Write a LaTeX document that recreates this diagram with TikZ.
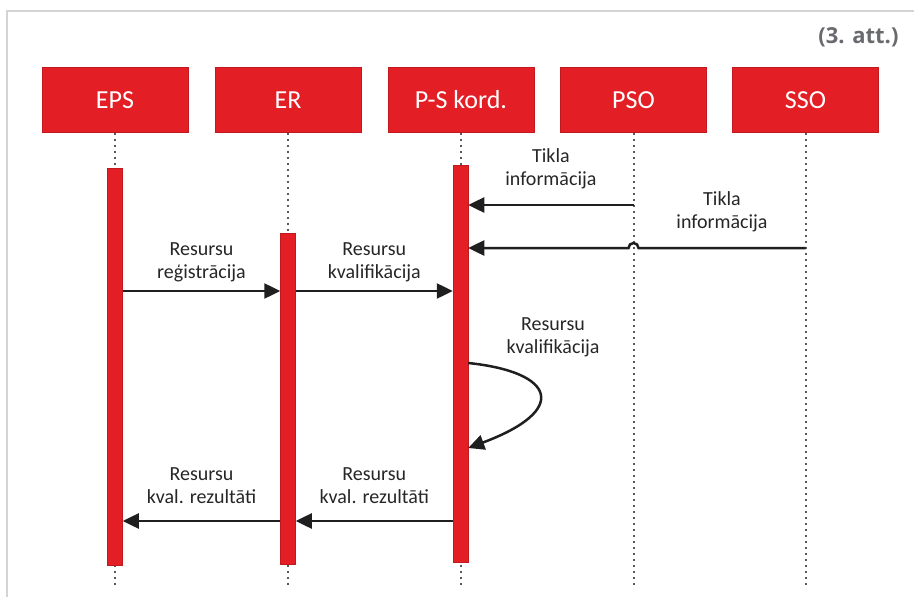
\documentclass[tikz,border=0pt]{standalone}
\usepackage{fontspec}
\setmainfont{Carlito}
\newfontfamily\attfont{Open Sans}
\usepackage{tikz}
\usetikzlibrary{arrows.meta}
\tikzset{>={Triangle[length=16pt,width=15pt]}}
\definecolor{actred}{RGB}{228,30,37}
\definecolor{framegray}{RGB}{212,212,212}
\definecolor{attgray}{RGB}{105,106,110}
\tikzset{
    actor/.style={fill=actred, draw=actred!85!black, line width=0.5pt,
        minimum width=146pt, minimum height=65pt, text=white,
        font=\fontsize{26}{30}\selectfont},
    actbar/.style={fill=actred, draw=actred!85!black, line width=0.5pt,
        minimum width=15pt, inner sep=0pt},
    lifeline/.style={line width=2pt, black!65, dash pattern=on 2pt off 4pt},
    msg/.style={->, line width=2.5pt, black!88},
    lbl/.style={align=center, text=black!85, inner sep=2pt,
        font=\fontsize{20}{23}\selectfont}
}

\begin{document}
\begin{tikzpicture}[x=1pt,y=-1pt]
    \useasboundingbox (0,0) rectangle (914,597);
    \draw[framegray, line width=2pt] (7,597) -- (7,11) -- (914,11);
    \node[anchor=base east, text=attgray, font=\attfont\bfseries\fontsize{22}{26}\selectfont] at (902,43) (att) {(3. att.)};

    \node[actor] at (115,100) (eps) {EPS};
    \node[actor] at (288,100) (er) {ER};
    \node[actor] at (461,100) (psk) {P-S kord.};
    \node[actor] at (633.5,100) (pso) {PSO};
    \node[actor] at (805.5,100) (sso) {SSO};
    \foreach \n in {eps,er,psk,pso,sso}
        \draw[lifeline] (\n.south) -- (\n.south |- 0,585);

    \node[actbar, minimum height=397pt] at (115,366.5) (epsbar) {};
    \node[actbar, minimum height=331pt] at (288,398.5) (erbar) {};
    \node[actbar, minimum height=397pt] at (460.5,363.5) (pskbar) {};

    \coordinate (m1) at (0,205);
    \coordinate (m2) at (0,248);
    \coordinate (m3) at (0,291);
    \coordinate (m4) at (0,521);

    \path[msg]
    (pso |- m1) edge node[lbl, above=13pt] {Tikla\\informācija} (pskbar.east |- m1)
    (epsbar.east |- m3) edge node[lbl, above=6pt] {Resursu\\reģistrācija} (erbar.west |- m3)
    (erbar.east |- m3) edge node[lbl, above=6pt] {Resursu\\kvalifikācija} (pskbar.west |- m3)
    (pskbar.west |- m4) edge node[lbl, above=14pt] {Resursu\\kval. rezultāti} (erbar.east |- m4)
    (erbar.west |- m4) edge node[lbl, above=14pt] {Resursu\\kval. rezultāti} (epsbar.east |- m4)
    ;
    \draw[msg] (sso |- m2) -- node[lbl, above=13pt] {Tikla\\informācija} ([xshift=5pt]pso |- m2)
        arc (0:-180:5) -- (pskbar.east |- m2);
    \draw[msg] (pskbar.east |- 0,363) .. controls (555,372) and (570,410) .. (pskbar.east |- 0,448);
    \node[lbl] at (553,337) (selfq) {Resursu\\kvalifikācija};
\end{tikzpicture}
\end{document}
